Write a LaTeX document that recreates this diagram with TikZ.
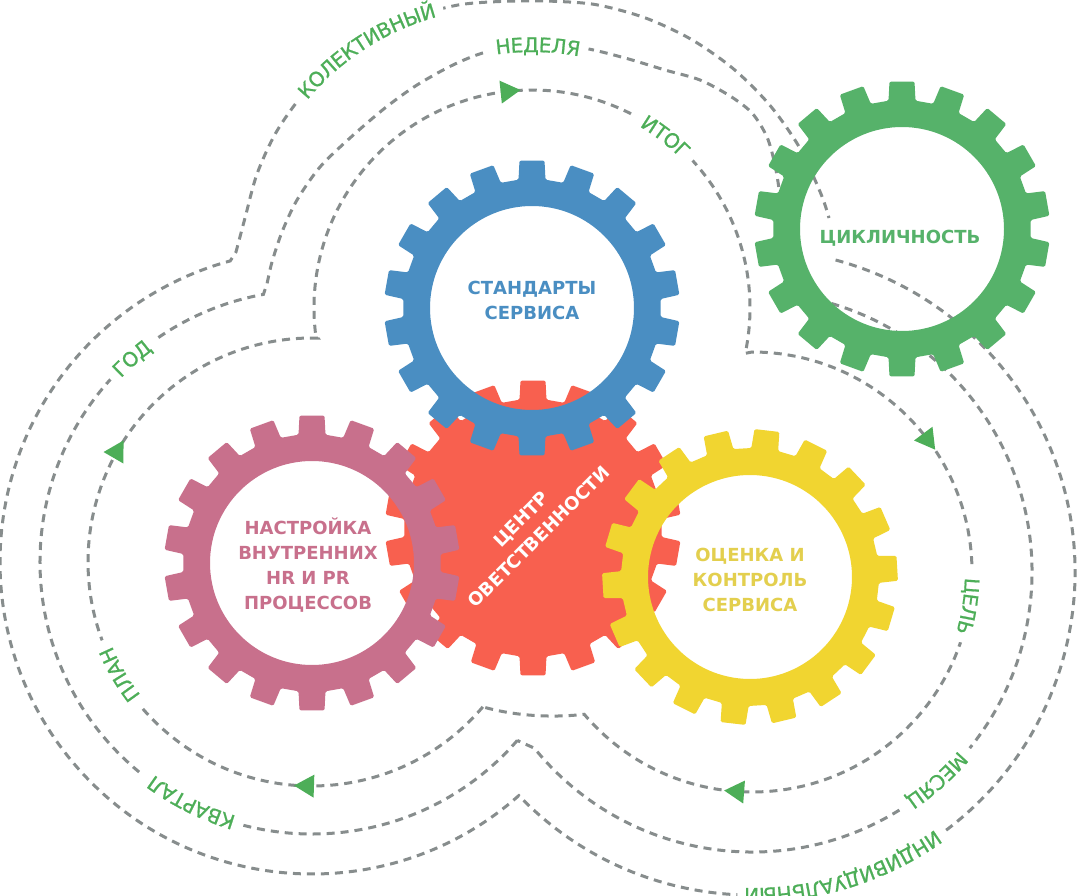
\documentclass[tikz,border=0pt]{standalone}
\usepackage{fontspec}
\setmainfont{DejaVu Sans}
\newfontfamily\trailfam{DejaVu Sans}[FakeBold=0.9]
\usetikzlibrary{calc,decorations.text}
\definecolor{gearblue}{HTML}{4A8EC2}
\definecolor{geargreen}{HTML}{56B26A}
\definecolor{gearred}{HTML}{F8604F}
\definecolor{gearpink}{HTML}{C8708C}
\definecolor{gearyellow}{HTML}{F1D530}
\definecolor{yellowtext}{HTML}{E3CF4E}
\definecolor{trailgrey}{HTML}{878D8D}
\definecolor{trailgreen}{HTML}{4DAE58}
\newcommand{\trailfont}{\trailfam\fontsize{20}{20}\selectfont}
% arrow head on a loop: point, direction
\newcommand{\flowtip}[2]{\fill[trailgreen] ($#1+(#2:11)$) -- ($#1+({#2+128}:14.6)$) -- ($#1+({#2-128}:14.6)$) -- cycle;}
% label on a loop: centre, radius, mid angle, half gap, text
\newcommand{\trailtext}[5]{%
  \draw[halo] ($(#1)+({#3-#4}:#2)$) arc[start angle={#3-#4}, end angle={#3+#4}, radius=#2];
  \path[decorate, decoration={text along path, text align=center, raise=-7pt,
    text color=trailgreen, text={|\trailfont|#5}}]
    ($(#1)+({#3-#4-20}:#2)$) arc[start angle={#3-#4-20}, end angle={#3+#4+20}, radius=#2];}
\tikzset{
  trail/.style={draw=trailgrey, line width=3pt, dash pattern=on 8pt off 6pt},
  halo/.style={draw=white, line width=15pt},
  geartext/.style={font=\bfseries\fontsize{18}{25}\selectfont, align=center},
  pics/gear/.style n args={2}{code={
    \fill[#1, even odd rule, rounded corners=1.5pt] (-96:129)
      \foreach \k in {0,...,16}{
        -- ({-90+20*\k-4.85}:148) -- ({-90+20*\k+4.85}:148)
        -- ({-90+20*\k+6}:129) -- ({-90+20*\k+14}:129)}
      -- ({250-4.85}:148) -- ({250+4.85}:148) -- (256:129) -- cycle
      (0,0) circle[radius=#2];
  }},
}
\begin{document}
\begin{tikzpicture}[x=1pt,y=-1pt]
  \useasboundingbox (0,0) rectangle (1080,896);
  \clip (0,0) rectangle (1080,896);
  \fill[white] (0,0) rectangle (1080,896);

  \coordinate (cblue) at (532,308);
  \coordinate (cgreen) at (902,229);
  \coordinate (cred) at (533,528);
  \coordinate (cpink) at (312,563);
  \coordinate (cyellow) at (750,577);
  \coordinate (lobeL) at (312,562);
  \coordinate (lobeT) at (532,308);
  \coordinate (lobeR) at (752,572);
  \coordinate (lobeC) at (504,264);

  % outer loop
  \draw[trail] ($(lobeR)+(-75:323)$) arc[start angle=-75, end angle=136.2, radius=323]
    -- ($(lobeL)+(48.5:312)$) arc[start angle=48.5, end angle=254.8, radius=312]
    -- plot[smooth] coordinates {(236,252) (245,218) (257,174) (276,132.5) (302.5,95)
       (335,62.5) (372.5,36.2) (414,16.9) (458,5) (500,1.5) (545,1) (595,4.5) (645,17.8)
       (691.5,39.5) (733.6,69) (770,105.4) (799.5,147.5) (821,194) (829,218)};
  % middle loop
  \draw[trail] ($(lobeL)+(41:272)$) arc[start angle=41, end angle=259.7, radius=272]
    -- plot[smooth] coordinates {(267,284) (272,262) (282,232) (297,200) (320,167)
       (350,138) (385,108) (417,85) (455,64) (490,51) (538,45) (583,48) (625,58)
       (665,70) (700,80) (730,96) (752,113) (767,137) (775,165) (780,195) (786,235) (796,295)}
    -- ($(lobeR)+(-80.9:280)$) arc[start angle=-80.9, end angle=141, radius=280] -- cycle;
  % inner loop
  \draw[trail] ($(lobeL)+(40.3:224)$) arc[start angle=40.3, end angle=271.5, radius=224]
    -- ($(lobeT)+(172.8:218)$) arc[start angle=172.8, end angle=372, radius=218]
    -- ($(lobeR)+(-90:220)$) arc[start angle=-90, end angle=139.7, radius=220]
    .. controls (552,718) and (515,716) .. ($(lobeL)+(40.3:224)$) -- cycle;

  \trailtext{lobeC}{263}{237.3}{19.3}{КОЛЕКТИВНЫЙ}
  \trailtext{lobeT}{263}{271.3}{11}{НЕДЕЛЯ}
  \trailtext{lobeT}{218}{307.9}{9.5}{ИТОГ}
  \trailtext{lobeL}{272}{228.5}{6.3}{ГОД}
  \trailtext{lobeL}{224}{149.7}{9.8}{ПЛАН}
  \trailtext{lobeL}{272}{116.6}{11.9}{КВАРТАЛ}
  \trailtext{lobeR}{220}{9}{9.6}{ЦЕЛЬ}
  \trailtext{lobeR}{280}{48.4}{9.4}{МЕСЯЦ}
  \trailtext{lobeR}{323}{73}{19.6}{ИНДИВИДУАЛЬНЫЙ}

  \flowtip{(lobeL)+(210:224)}{300}
  \flowtip{(lobeT)+(264.1:218)}{354.1}
  \flowtip{(lobeR)+(-36.6:220)}{53.4}
  \flowtip{(lobeR)+(94.4:220)}{184.4}
  \flowtip{(lobeL)+(91.8:224)}{181.8}

  % gears
  \pic at (cred) {gear={gearred}{0}};
  \pic at (cblue) {gear={gearblue}{102}};
  \pic at (cpink) {gear={gearpink}{102}};
  \pic[rotate=-6.6] at (cyellow) {gear={gearyellow}{102}};
  \pic at (cgreen) {gear={geargreen}{102}};

  \node[geartext, text=gearblue] (tblue) at (532,300) {СТАНДАРТЫ\\СЕРВИСА};
  \node[geartext, text=geargreen] (tgreen) at (900,238) {ЦИКЛИЧНОСТЬ};
  \node[geartext, text=gearpink] (tpink) at (308,565) {НАСТРОЙКА\\ВНУТРЕННИХ\\HR И PR\\ПРОЦЕССОВ};
  \node[geartext, text=yellowtext] (tyellow) at (750,580) {ОЦЕНКА И\\КОНТРОЛЬ\\СЕРВИСА};
  \node[geartext, text=white, rotate=45] (tred) at (530,528) {ЦЕНТР\\ОВЕТСТВЕННОСТИ};
\end{tikzpicture}
\end{document}
